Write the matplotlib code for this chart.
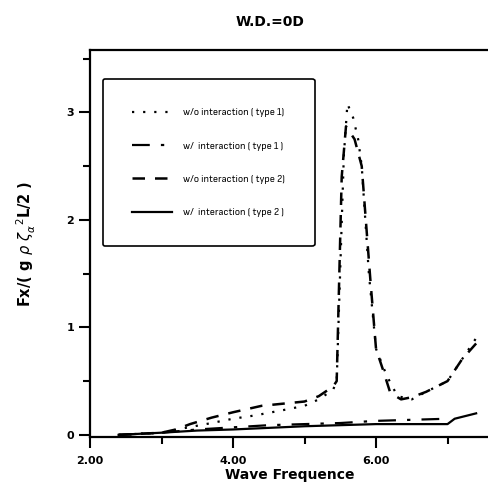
import matplotlib
matplotlib.use("Agg")
import matplotlib.pyplot as plt
from matplotlib import font_manager

# w/o interaction (type 1) - dotted
x_wo1 = [2.4, 3.0, 3.3, 3.7, 4.0, 4.3, 4.7, 5.0, 5.2, 5.4, 5.45, 5.55, 5.6, 5.68, 5.75, 5.8, 5.9, 6.0, 6.15, 6.3, 6.5, 6.7, 7.0, 7.2, 7.4]
y_wo1 = [0.0, 0.02, 0.06, 0.11, 0.15, 0.18, 0.23, 0.27, 0.33, 0.42, 0.5, 2.6, 3.08, 2.95, 2.75, 2.5, 1.5, 0.8, 0.55, 0.36, 0.33, 0.4, 0.5, 0.7, 0.9]
# w/ interaction (type 1) - dash-dot
x_w1 = [2.4, 3.0, 3.5, 4.0, 4.5, 5.0, 5.5, 6.0, 6.5, 7.0]
y_w1 = [0.0, 0.02, 0.05, 0.07, 0.09, 0.1, 0.11, 0.13, 0.14, 0.15]
# w/o interaction (type 2) - dashed
x_wo2 = [2.4, 3.0, 3.2, 3.4, 3.7, 4.0, 4.4, 4.7, 5.0, 5.2, 5.4, 5.45, 5.52, 5.58, 5.7, 5.8, 5.92, 6.0, 6.1, 6.2, 6.35, 6.5, 6.7, 7.0, 7.2, 7.4]
y_wo2 = [0.0, 0.02, 0.05, 0.1, 0.16, 0.21, 0.27, 0.29, 0.31, 0.36, 0.45, 0.5, 2.4, 2.87, 2.75, 2.5, 1.45, 0.8, 0.6, 0.39, 0.33, 0.35, 0.4, 0.5, 0.7, 0.85]
# w/ interaction (type 2) - solid
x_w2 = [2.4, 3.0, 3.5, 4.0, 4.5, 5.0, 5.5, 6.0, 6.5, 7.0, 7.1, 7.4]
y_w2 = [0.0, 0.02, 0.04, 0.05, 0.065, 0.08, 0.09, 0.1, 0.1, 0.1, 0.15, 0.2]

labels = ["w/o interaction ( type 1)", "w/  interaction ( type 1 )",
          "w/o interaction ( type 2)", "w/  interaction ( type 2 )"]

# narrow font if one is around
names = {f.name for f in font_manager.fontManager.ttflist}
narrow = [n for n in names if "Narrow" in n or "Condensed" in n]
leg_family = (narrow[:1] if narrow else []) + ["Liberation Sans", "DejaVu Sans"]
leg_size = 7.5 if narrow else 6.3

fig = plt.figure(figsize=(4.89, 4.93), dpi=100)
ax = fig.add_axes([90 / 489, (493 - 437) / 493, 399 / 489, 387 / 493])

ax.plot(x_wo1, y_wo1, color="black", linestyle=(0, (1, 4)), lw=1.6, label=labels[0])
ax.plot(x_w1, y_w1, color="black", linestyle=(0, (8, 5, 1.5, 5)), lw=1.6, label=labels[1])
ax.plot(x_wo2, y_wo2, color="black", linestyle=(0, (5, 4)), lw=1.8, label=labels[2])
ax.plot(x_w2, y_w2, color="black", linestyle="-", lw=1.6, label=labels[3])

ax.set_xlim(2.0, 7.58)
ax.set_ylim(-0.02, 3.58)
ax.set_xticks([2, 4, 6])
ax.set_xticklabels(["2.00", "4.00", "6.00"])
ax.set_xticks([3, 5, 7], minor=True)
ax.set_yticks([0, 1, 2, 3])
ax.set_yticks([0.5, 1.5, 2.5, 3.5], minor=True)
ax.tick_params(which="major", length=8, width=1.5, labelsize=8, direction="out")
ax.tick_params(axis="x", which="major", pad=6)
ax.tick_params(which="minor", length=5, width=1.5, direction="out")
for t in ax.get_xticklabels() + ax.get_yticklabels():
    t.set_fontweight("bold")

ax.spines["right"].set_visible(False)
for s in ["left", "top", "bottom"]:
    ax.spines[s].set_linewidth(1.6)

ax.set_xlabel("Wave Frequence", fontsize=10, fontweight="bold", labelpad=1)
ax.set_ylabel(r"Fx/( g $\rho$ $\zeta_{\alpha}^{\ \ 2}$L/2 )", fontsize=10.5, fontweight="bold", labelpad=20)
fig.text(270 / 489, 1 - 22 / 493, "W.D.=0D", ha="center", va="center", fontsize=10, fontweight="bold")

leg = ax.legend(loc="upper left", bbox_to_anchor=(0.033, 0.925), fancybox=True,
                edgecolor="black", framealpha=1, handlelength=3.8, labelspacing=2.3,
                borderpad=2.8, handletextpad=1.1, borderaxespad=0,
                prop={"family": leg_family, "size": leg_size})
leg.get_frame().set_linewidth(1.2)

fig.savefig("out.png", dpi=100)
